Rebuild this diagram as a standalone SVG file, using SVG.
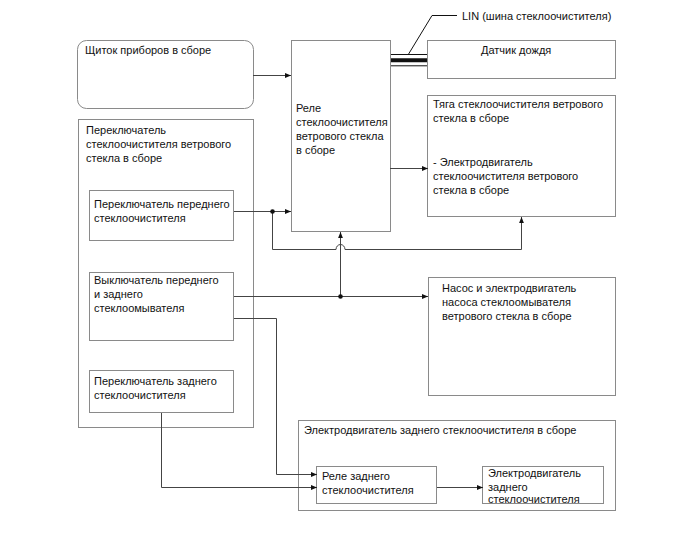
<svg xmlns="http://www.w3.org/2000/svg" width="688" height="560" viewBox="0 0 688 560">
<style>
.box{fill:#fff;stroke:#8a8a8a;stroke-width:1}
.t{font-family:"Liberation Sans",Arial,sans-serif;font-size:11px;fill:#111}
.c{fill:none;stroke:#444;stroke-width:1}
.dot{fill:#111}
</style>
<defs>
<marker id="ar" viewBox="0 0 10 10" refX="10" refY="5" markerWidth="9" markerHeight="6" markerUnits="userSpaceOnUse" orient="auto">
<path d="M0,1 L10,5 L0,9 Z" fill="#111"/>
</marker>
</defs>
<rect width="688" height="560" fill="#fff"/>

<g id="instrument-panel">
<rect class="box" x="77.5" y="40.5" width="176" height="68" rx="9"/>
<text class="t" x="85" y="54">Щиток приборов в сборе</text>
</g>

<g id="wiper-relay">
<rect class="box" x="291.5" y="40.5" width="99" height="191"/>
<text class="t" x="296" y="112">Реле</text>
<text class="t" x="296" y="126">стеклоочистителя</text>
<text class="t" x="296" y="140">ветрового стекла</text>
<text class="t" x="296" y="154">в сборе</text>
</g>

<g id="rain-sensor">
<rect class="box" x="427.5" y="40.5" width="188" height="38"/>
<text class="t" x="481" y="54">Датчик дождя</text>
</g>

<g id="wiper-linkage">
<rect class="box" x="427.5" y="95.5" width="188" height="121"/>
<text class="t" x="433" y="108">Тяга стеклоочистителя ветрового</text>
<text class="t" x="433" y="122">стекла в сборе</text>
<text class="t" x="433" y="166">- Электродвигатель</text>
<text class="t" x="433" y="180">стеклоочистителя ветрового</text>
<text class="t" x="433" y="194">стекла в сборе</text>
</g>

<g id="wiper-switch-assembly">
<rect class="box" x="78.5" y="119.5" width="175" height="308"/>
<text class="t" x="86" y="134">Переключатель</text>
<text class="t" x="86" y="148">стеклоочистителя ветрового</text>
<text class="t" x="86" y="162">стекла в сборе</text>
</g>

<g id="front-wiper-switch">
<rect class="box" x="89.5" y="190.5" width="144" height="50"/>
<text class="t" x="94" y="208">Переключатель переднего</text>
<text class="t" x="94" y="222">стеклоочистителя</text>
</g>

<g id="washer-switch">
<rect class="box" x="89.5" y="272.5" width="144" height="68"/>
<text class="t" x="94" y="284">Выключатель переднего</text>
<text class="t" x="94" y="298">и заднего</text>
<text class="t" x="94" y="312">стеклоомывателя</text>
</g>

<g id="rear-wiper-switch">
<rect class="box" x="89.5" y="370.5" width="144" height="42"/>
<text class="t" x="94" y="385">Переключатель заднего</text>
<text class="t" x="94" y="399">стеклоочистителя</text>
</g>

<g id="washer-pump">
<rect class="box" x="428.5" y="277.5" width="187" height="118"/>
<text class="t" x="442" y="292">Насос и электродвигатель</text>
<text class="t" x="442" y="306">насоса стеклоомывателя</text>
<text class="t" x="442" y="320">ветрового стекла в сборе</text>
</g>

<g id="rear-motor-assembly">
<rect class="box" x="298.5" y="420.5" width="317" height="90"/>
<text class="t" x="304" y="434">Электродвигатель заднего стеклоочистителя в сборе</text>
</g>

<g id="rear-relay">
<rect class="box" x="316.5" y="466.5" width="120" height="37"/>
<text class="t" x="322" y="480">Реле заднего</text>
<text class="t" x="322" y="494">стеклоочистителя</text>
</g>

<g id="rear-motor">
<rect class="box" x="482.5" y="466.5" width="121" height="37"/>
<text class="t" x="488" y="477">Электродвигатель</text>
<text class="t" x="488" y="491">заднего</text>
<text class="t" x="488" y="503">стеклоочистителя</text>
</g>

<g id="connectors">
<line class="c" x1="253" y1="75.5" x2="291" y2="75.5" marker-end="url(#ar)"/>
<line class="c" x1="390" y1="168.5" x2="428" y2="168.5" marker-end="url(#ar)"/>
<line class="c" x1="234" y1="211.5" x2="291" y2="211.5" marker-end="url(#ar)"/>
<path class="c" d="M272.5,211.5 V249.5 H336 A4.5,5 0 0 1 345,249.5 H521.5 V217" marker-end="url(#ar)"/>
<line class="c" x1="234" y1="296.5" x2="428" y2="296.5" marker-end="url(#ar)"/>
<line class="c" x1="340.5" y1="296.5" x2="340.5" y2="232" marker-end="url(#ar)"/>
<path class="c" d="M234,318.5 H276.5 V474.5 H317" marker-end="url(#ar)"/>
<path class="c" d="M161.5,413 V487.5 H317" marker-end="url(#ar)"/>
<line class="c" x1="437" y1="487.5" x2="483" y2="487.5" marker-end="url(#ar)"/>
<circle class="dot" cx="272.5" cy="211.5" r="2.3"/>
<circle class="dot" cx="340.5" cy="296.5" r="2.3"/>
<line x1="391" y1="54.5" x2="427" y2="54.5" stroke="#111" stroke-width="1"/>
<line x1="391" y1="60.3" x2="427" y2="60.3" stroke="#111" stroke-width="4"/>
<line x1="391" y1="65.8" x2="427" y2="65.8" stroke="#111" stroke-width="1"/>
<path d="M408,55 L432,15.5 H457" fill="none" stroke="#111" stroke-width="1"/>
<text class="t" x="462" y="20">LIN (шина стеклоочистителя)</text>
</g>
</svg>
